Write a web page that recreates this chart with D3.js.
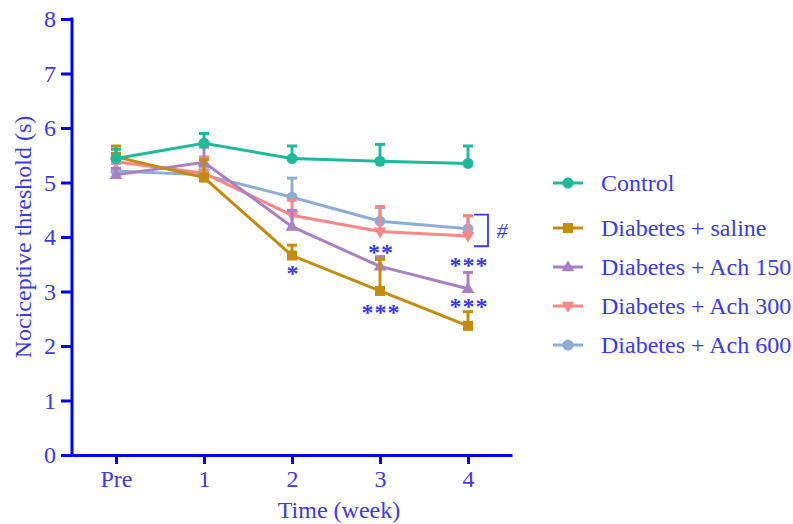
<!DOCTYPE html>
<html>
<head>
<meta charset="utf-8">
<script src="https://cdn.jsdelivr.net/npm/d3@7"></script>
<style>
  body { margin: 0; background: #fff; }
  svg text { font-family: "Liberation Serif", "Times New Roman", serif; }
</style>
</head>
<body>
<div id="chart"></div>
<script>
// categories
var weeks = ['Pre', '1', '2', '3', '4'];
var seriesNames = ['Control', 'Diabetes + saline', 'Diabetes + Ach 150', 'Diabetes + Ach 300', 'Diabetes + Ach 600'];
var seriesColors = ['#1fb99c', '#c38c0c', '#aa80c2', '#f98787', '#8eadd6'];
var seriesShapes = ['circle', 'square', 'triangle', 'down', 'circle'];
// means (s)
var control = [5.44, 5.72, 5.44, 5.39, 5.35];
var saline = [5.47, 5.09, 3.66, 3.01, 2.37];
var ach150 = [5.14, 5.37, 4.19, 3.46, 3.05];
var ach300 = [5.38, 5.17, 4.40, 4.10, 4.02];
var ach600 = [5.21, 5.14, 4.73, 4.29, 4.15];
// upper error (SEM)
var controlErr = [0.17, 0.18, 0.23, 0.31, 0.32];
var salineErr = [0.20, 0.33, 0.19, 0.58, 0.26];
var ach150Err = [0.12, 0.28, 0.30, 0.18, 0.30];
var ach300Err = [0.13, 0.30, 0.28, 0.46, 0.37];
var ach600Err = [0.14, 0.14, 0.35, 0.25, 0.24];
var yTicks = [0, 1, 2, 3, 4, 5, 6, 7, 8];
// significance marks: week index, level (s), text
var marks = [
  { w: 2, v: 3.41, t: '*' },
  { w: 3, v: 3.80, t: '**' },
  { w: 3, v: 2.70, t: '***' },
  { w: 4, v: 3.56, t: '***' },
  { w: 4, v: 2.81, t: '***' }
];
var bracket = { w: 4, top: 4.41, bottom: 3.83, t: '#' };

var allMeans = [control, saline, ach150, ach300, ach600];
var allErr = [controlErr, salineErr, ach150Err, ach300Err, ach600Err];

var W = 793, H = 524;
var axisColor = '#0000ff', textColor = '#3a3af0';

var svg = d3.select('#chart').append('svg').attr('width', W).attr('height', H);

var x = d3.scaleLinear().domain([-0.5, 4.5]).range([72, 512]);
var y = d3.scaleLinear().domain([0, 8]).range([455, 19]);

var series = seriesNames.map(function (n, i) {
  return { name: n, color: seriesColors[i], shape: seriesShapes[i],
    values: allMeans[i].map(function (v, j) { return { w: j, v: v, e: allErr[i][j] }; }) };
});

// y axis
var gy = svg.append('g').attr('transform', 'translate(' + x(-0.5) + ',0)')
  .call(d3.axisLeft(y).tickValues(yTicks).tickSize(11).tickSizeOuter(0).tickPadding(5));
// x axis
var gx = svg.append('g').attr('transform', 'translate(0,' + y(0) + ')')
  .call(d3.axisBottom(x).tickValues(d3.range(weeks.length)).tickFormat(function (d) { return weeks[d]; })
    .tickSize(9).tickSizeOuter(0).tickPadding(6));
[gx, gy].forEach(function (g) {
  g.selectAll('path, line').attr('stroke', axisColor).attr('stroke-width', 3);
  g.selectAll('text').attr('fill', textColor).style('font-size', '24px')
    .style('font-family', '"Liberation Serif", serif');
});
gy.select('.domain').attr('d', 'M0,' + (y(8) - 1.5) + 'V' + (y(0) + 1.5));

svg.append('text').attr('x', (x(-0.5) + x(4.5)) / 2 + 47).attr('y', 518)
  .attr('text-anchor', 'middle').attr('fill', textColor).style('font-size', '24px')
  .text('Time (week)');
svg.append('text').attr('transform', 'translate(31,' + ((y(0) + y(8)) / 2) + ') rotate(-90)')
  .attr('text-anchor', 'middle').attr('fill', textColor).style('font-size', '24px')
  .text('Nociceptive threshold (s)');

function marker(g, shape, color, cx, cy) {
  if (shape === 'circle') {
    g.append('circle').attr('cx', cx).attr('cy', cy).attr('r', 5.5).attr('fill', color);
  } else if (shape === 'square') {
    g.append('rect').attr('x', cx - 5).attr('y', cy - 5).attr('width', 10).attr('height', 10).attr('fill', color);
  } else {
    var s = shape === 'triangle' ? 1 : -1;
    g.append('path').attr('d', d3.symbol(d3.symbolTriangle, 70)())
      .attr('transform', 'translate(' + cx + ',' + (cy + s * 0.5) + ')' + (s < 0 ? ' rotate(180)' : ''))
      .attr('fill', color);
  }
}

var line = d3.line().x(function (d) { return x(d.w); }).y(function (d) { return y(d.v); });

series.slice().reverse().forEach(function (s) {
  var g = svg.append('g');
  g.append('path').datum(s.values).attr('d', line).attr('fill', 'none')
    .attr('stroke', s.color).attr('stroke-width', 3);
  s.values.forEach(function (d) {
    g.append('line').attr('x1', x(d.w)).attr('x2', x(d.w)).attr('y1', y(d.v)).attr('y2', y(d.v + d.e))
      .attr('stroke', s.color).attr('stroke-width', 3);
    g.append('line').attr('x1', x(d.w) - 5).attr('x2', x(d.w) + 5).attr('y1', y(d.v + d.e)).attr('y2', y(d.v + d.e))
      .attr('stroke', s.color).attr('stroke-width', 3);
    marker(g, s.shape, s.color, x(d.w), y(d.v));
  });
});

// significance
marks.forEach(function (m) {
  svg.append('text').attr('x', x(m.w) + 1).attr('y', y(m.v) + 12).attr('text-anchor', 'middle')
    .attr('fill', textColor).style('font-size', '24px').style('font-weight', 'bold')
    .style('letter-spacing', '1px').text(m.t);
});
var bx = x(bracket.w);
svg.append('path').attr('d', 'M' + (bx + 6) + ',' + y(bracket.top) + 'H' + (bx + 20) + 'V' + y(bracket.bottom) + 'H' + (bx + 6))
  .attr('fill', 'none').attr('stroke', textColor).attr('stroke-width', 1.8);
svg.append('text').attr('x', bx + 34).attr('y', y((bracket.top + bracket.bottom) / 2) + 8)
  .attr('text-anchor', 'middle').attr('fill', textColor).style('font-size', '22px')
  .style('font-style', 'italic').text(bracket.t);

// legend
var legY = [183, 228, 267, 306, 345];
series.forEach(function (s, i) {
  var g = svg.append('g').attr('transform', 'translate(553,' + legY[i] + ')');
  g.append('line').attr('x1', 0).attr('x2', 30).attr('stroke', s.color).attr('stroke-width', 3);
  marker(g, s.shape, s.color, 15, 0);
  g.append('text').attr('x', 48).attr('y', 8).attr('fill', textColor).style('font-size', '24px').text(s.name);
});
</script>
</body>
</html>
